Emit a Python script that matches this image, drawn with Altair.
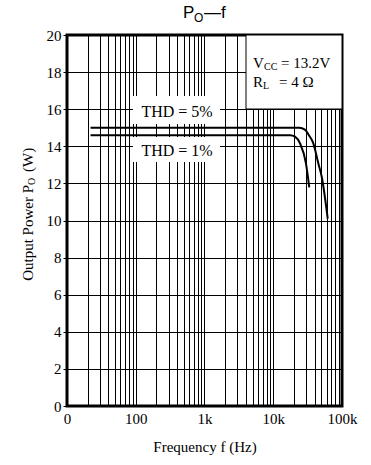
import altair as alt
import pandas as pd

# Output power vs. frequency, Vcc = 13.2 V, RL = 4 ohm
freq_thd5 = [22, 1000, 10000, 24000, 28800, 33000, 38300, 45200, 50700, 62000]
power_thd5 = [15.0, 15.0, 15.0, 15.0, 14.9, 14.6, 14.16, 13.08, 12.36, 10.1]

freq_thd1 = [22, 1000, 10000, 17700, 20700, 24500, 29900, 33400]
power_thd1 = [14.6, 14.6, 14.6, 14.6, 14.52, 14.16, 13.08, 11.79]

y_ticks = list(range(0, 21, 2))
x_decades = [10, 100, 1000, 10000, 100000]
x_decade_labels = ["0", "100", "1k", "10k", "100k"]
x_grid = [m * d for d in [10, 100, 1000, 10000] for m in range(1, 10)] + [100000]

SERIF = "Liberation Serif"
SANS = "Liberation Sans"

curves = pd.concat([
    pd.DataFrame({"f": freq_thd5, "p": power_thd5, "series": "THD=5%"}),
    pd.DataFrame({"f": freq_thd1, "p": power_thd1, "series": "THD=1%"}),
])

label_expr = " : ".join(
    f"datum.value == {v} ? '{t}'" for v, t in zip(x_decades, x_decade_labels)
) + " : ''"

x_scale = alt.Scale(type="log", domain=[10, 100000], nice=False)
y_scale = alt.Scale(domain=[0, 20], nice=False, zero=False)

x_axis = alt.Axis(
    values=x_grid, labelExpr=label_expr, grid=True, gridColor="black",
    gridWidth=1, gridOpacity=1, domain=False, ticks=False,
    labelFont=SERIF, labelFontSize=15, labelColor="black", labelPadding=5,
    labelOverlap=False, labelFlush=False, title=None,
)
y_axis = alt.Axis(
    values=y_ticks, grid=True, gridColor="black", gridWidth=1, gridOpacity=1,
    domain=False, tickSize=4, tickColor="black", tickWidth=1,
    labelFont=SERIF, labelFontSize=15, labelColor="black", labelPadding=2,
    labelOverlap=False, labelFlush=False, title=None,
)

one = alt.Data(values=[{}])

lines = alt.Chart(curves).mark_line(
    color="black", strokeWidth=2, interpolate="monotone"
).encode(
    x=alt.X("f:Q", scale=x_scale, axis=x_axis),
    y=alt.Y("p:Q", scale=y_scale, axis=y_axis),
    detail="series:N",
)


def box(x0, x1, y0, y1, **style):
    return alt.Chart(one).mark_rect(**style).encode(
        x=alt.value(x0), x2=alt.value(x1), y=alt.value(y0), y2=alt.value(y1)
    )


boxes = [
    # condition box in the upper-right corner
    box(179, 275, 0, 74, fill="white", stroke="black", strokeWidth=1),
    # white backgrounds behind the THD labels
    box(66, 153, 61, 89, fill="white"),
    box(66, 153, 102, 127, fill="white"),
]


def text(t, x, y, size=15, font=SERIF, align="left", baseline="alphabetic", angle=None):
    kw = dict(text=t, font=font, fontSize=size, color="black", align=align, baseline=baseline)
    if angle is not None:
        kw["angle"] = angle
    return alt.Chart(one).mark_text(**kw).encode(x=alt.value(x), y=alt.value(y))


texts = [
    # curve labels
    text("THD = 5%", 110, 77, size=16, align="center", baseline="middle"),
    text("THD = 1%", 110, 116, size=16, align="center", baseline="middle"),
    # conditions
    text("V", 186, 33),
    text("CC", 197, 35, size=10),
    text("= 13.2V", 214, 33),
    text("R", 186, 52),
    text("L", 196, 54, size=10),
    text("= 4 Ω", 212, 52),
    # chart title
    text("P", 116, -17, size=17, font=SANS),
    text("O", 127, -13, size=12, font=SANS),
    text("—f", 137, -17, size=17, font=SANS),
    # x-axis title
    text("Frequency f (Hz)", 138, 412, align="center", baseline="middle"),
    # y-axis title (rotated)
    text("Output Power P", -39, 150, align="right", baseline="middle", angle=270),
    text("O", -35, 150, size=10, align="left", baseline="middle", angle=270),
    text("(W)", -39, 137, align="left", baseline="middle", angle=270),
]

chart = alt.layer(lines, *boxes, *texts).properties(
    width=275, height=371,
    autosize=alt.AutoSizeParams(type="none"),
    padding={"left": 67, "top": 35, "right": 29, "bottom": 59},
    background="white",
).configure_view(
    stroke="black", strokeWidth=3,
)

chart.save("out.html", embed_options={"renderer": "svg", "actions": False})
